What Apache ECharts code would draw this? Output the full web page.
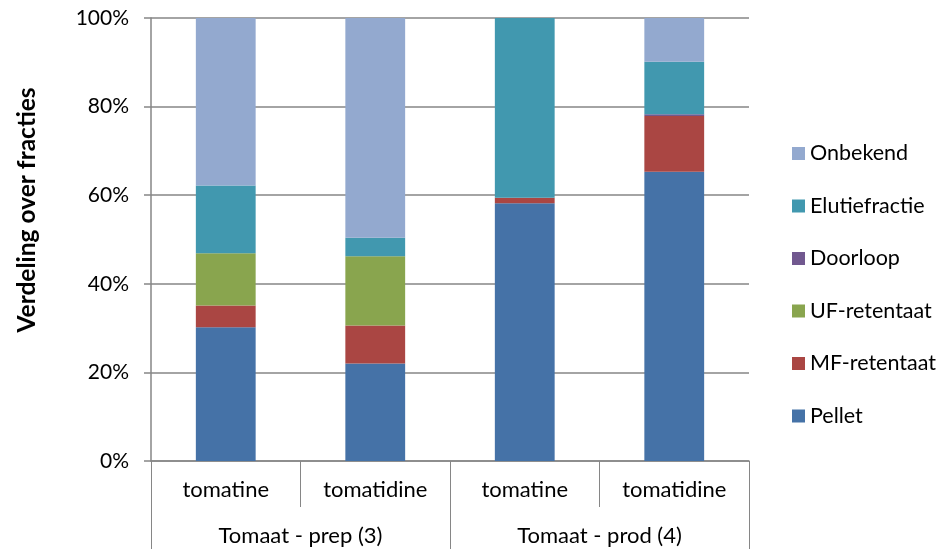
<!DOCTYPE html>
<html>
<head>
<meta charset="utf-8">
<script src="https://cdn.jsdelivr.net/npm/echarts@6/dist/echarts.min.js"></script>
<style>
  html, body { margin: 0; padding: 0; background: #fff; }
  #chart { width: 944px; height: 549px; }
</style>
</head>
<body>
<div id="chart"></div>
<script>
// Sub categories (compound) and their sample groups
const subCategories = ['tomatine', 'tomatidine', 'tomatine', 'tomatidine'];
const groups = ['Tomaat - prep (3)', 'Tomaat - prod (4)'];
const yTicks = [0, 20, 40, 60, 80, 100];

// Share per fraction, in percent
const pellet      = [30.2, 22.0, 58.2, 65.3];
const mfRetentaat = [4.9, 8.6, 1.2, 12.6];
const ufRetentaat = [11.8, 15.6, 0, 0];
const doorloop    = [0, 0, 0, 0.4];
const elutie      = [15.3, 4.2, 40.6, 11.8];
const onbekend    = [37.8, 49.6, 0, 9.9];

const fractions = [
  { name: 'Pellet', data: pellet, color: '#4572A7' },
  { name: 'MF-retentaat', data: mfRetentaat, color: '#AA4643' },
  { name: 'UF-retentaat', data: ufRetentaat, color: '#89A54E' },
  { name: 'Doorloop', data: doorloop, color: '#71588F' },
  { name: 'Elutiefractie', data: elutie, color: '#4198AF' },
  { name: 'Onbekend', data: onbekend, color: '#93A9CF' }
];

const FONT = 'Lato';
const GRAY = '#868686';

const chart = echarts.init(document.getElementById('chart'), null, { renderer: 'canvas' });

chart.setOption({
  animation: false,
  backgroundColor: '#fff',
  textStyle: { fontFamily: FONT, color: '#000' },
  grid: { left: 151, right: 195, top: 18, bottom: 88, containLabel: false },
  legend: {
    orient: 'vertical',
    left: 787,
    top: 137,
    itemWidth: 13,
    itemHeight: 13,
    itemGap: 29.5,
    icon: 'rect',
    data: fractions.map(f => f.name).reverse(),
    textStyle: { fontFamily: FONT, fontSize: 21.5, color: '#000', lineHeight: 23 }
  },
  xAxis: [
    {
      type: 'category',
      data: subCategories,
      position: 'bottom',
      axisLine: { show: true, lineStyle: { color: GRAY, width: 1.5 } },
      axisTick: { show: true, length: 46, lineStyle: { color: GRAY, width: 1 } },
      axisLabel: { margin: 18, fontSize: 22, color: '#000', fontFamily: FONT, interval: 0 }
    },
    {
      type: 'category',
      data: groups,
      position: 'bottom',
      axisLine: { show: false },
      axisTick: { show: true, length: 92, lineStyle: { color: GRAY, width: 1 } },
      axisLabel: { margin: 64, fontSize: 22, color: '#000', fontFamily: FONT, interval: 0 }
    }
  ],
  yAxis: {
    type: 'value',
    min: yTicks[0],
    max: yTicks[yTicks.length - 1],
    interval: 20,
    axisLine: { show: true, lineStyle: { color: GRAY, width: 1.5 } },
    axisTick: { show: true, length: 7, lineStyle: { color: GRAY, width: 1.5 } },
    splitLine: { show: true, lineStyle: { color: GRAY, width: 1.5 } },
    axisLabel: { margin: 22, fontSize: 21, color: '#000', fontFamily: FONT, formatter: '{value}%' }
  },
  graphic: [
    {
      type: 'text',
      x: 27,
      y: 210,
      rotation: Math.PI / 2,
      style: {
        text: 'Verdeling over fracties',
        fontFamily: FONT,
        fontSize: 24.5,
        fontWeight: 'bold',
        fill: '#000',
        align: 'center',
        verticalAlign: 'middle'
      }
    }
  ],
  series: fractions.map(f => ({
    name: f.name,
    type: 'bar',
    stack: 'total',
    xAxisIndex: 0,
    barWidth: '40%',
    data: f.data,
    itemStyle: { color: f.color },
    emphasis: { disabled: true }
  }))
});
</script>
</body>
</html>
